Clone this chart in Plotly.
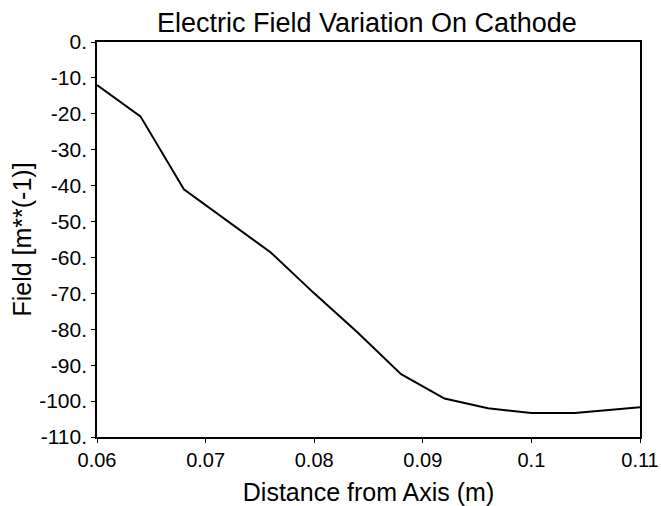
import plotly.graph_objects as go

distance = [0.060, 0.064, 0.068, 0.072, 0.076, 0.080, 0.084, 0.088, 0.092, 0.096, 0.100, 0.104, 0.108, 0.110]
field = [-12.0, -20.7, -41.0, -49.8, -58.6, -70.0, -80.9, -92.5, -99.3, -102.0, -103.3, -103.3, -102.3, -101.7]

x_ticks = [0.06, 0.07, 0.08, 0.09, 0.10, 0.11]
x_tick_labels = ["0.06", "0.07", "0.08", "0.09", "0.1", "0.11"]
y_ticks = [0, -10, -20, -30, -40, -50, -60, -70, -80, -90, -100, -110]
y_tick_labels = ["0.", "-10.", "-20.", "-30.", "-40.", "-50.", "-60.", "-70.", "-80.", "-90.", "-100.", "-110."]

fig = go.Figure()
fig.add_trace(go.Scatter(x=distance, y=field, mode="lines",
                         line=dict(color="black", width=2), showlegend=False))

font = "Liberation Sans, Arial, sans-serif"
fig.update_layout(
    width=661, height=506,
    margin=dict(l=97, r=21, t=42, b=69),
    paper_bgcolor="white", plot_bgcolor="white",
    font=dict(family=font, color="black"),
    title=dict(text="Electric Field Variation On Cathode", x=0.555, xanchor="center",
               y=0.956, yanchor="middle", font=dict(size=27, family=font, color="black")),
)
fig.update_xaxes(range=[0.06, 0.11], tickvals=x_ticks, ticktext=x_tick_labels,
                 showgrid=False, zeroline=False, showline=True, linecolor="black", linewidth=1.5,
                 mirror=True, ticks="outside", ticklen=4, tickcolor="black", automargin=False,
                 ticklabeloverflow="allow",
                 tickfont=dict(size=20), title=dict(text="Distance from Axis (m)", font=dict(size=25), standoff=14))
fig.update_yaxes(range=[-110, 0], tickvals=y_ticks, ticktext=y_tick_labels,
                 showgrid=False, zeroline=False, showline=True, linecolor="black", linewidth=1.5,
                 mirror=True, ticks="outside", ticklen=4, tickcolor="black", automargin=False,
                 ticklabeloverflow="allow",
                 tickfont=dict(size=21), title=dict(text="Field [m**(-1)]", font=dict(size=25), standoff=0))

fig.write_html("out.html", config={"displayModeBar": False},
               post_script="document.body.style.margin='0';document.body.style.padding='0';")
